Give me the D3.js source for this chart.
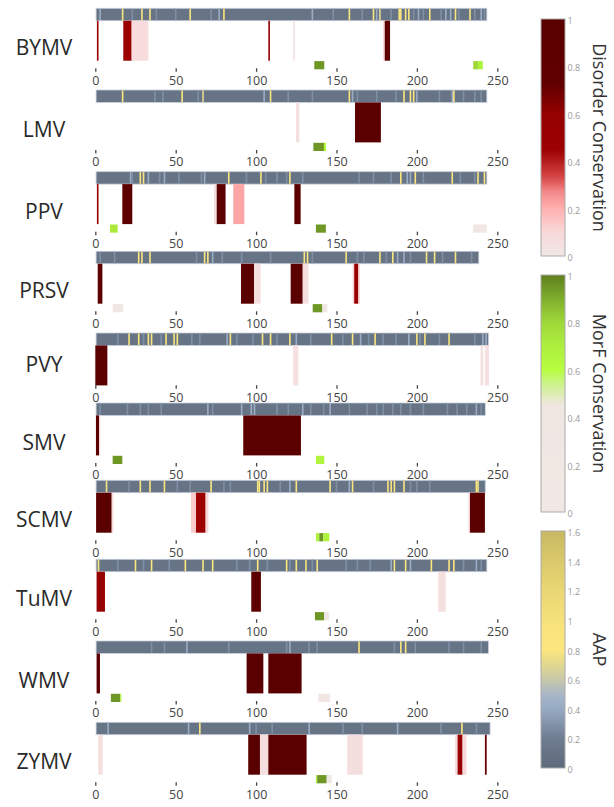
<!DOCTYPE html>
<html>
<head>
<meta charset="utf-8">
<script src="https://cdn.jsdelivr.net/npm/d3@7"></script>
<style>
  body { margin: 0; background: #fff; }
  svg { font-family: "Open Sans", sans-serif; }
</style>
</head>
<body>
<div id="chart"></div>
<script>
// ---- data ----
const viruses = ["BYMV", "LMV", "PPV", "PRSV", "PVY", "SMV", "SCMV", "TuMV", "WMV", "ZYMV"];
const seqLengths = [243, 243, 243, 238, 244, 242, 242, 243, 244, 245];
const xTicks = [0, 50, 100, 150, 200, 250];

// AAP: [residue, value] for residues that differ from the base value
const aapBase = 0.1;
const aapBYMV = [[3,.42],[17,.85],[23,.28],[29,.85],[34,.85],[38,.28],[50,.28],[59,.85],[72,.28],[77,.42],[80,.85],[135,.42],[148,.28],[158,.85],[166,.28],[173,.85],[175,.42],[177,.7],[184,.28],[189,.85],[190,.85],[193,.85],[195,.85],[198,.28],[201,.42],[204,.28],[208,.85],[215,.28],[218,.42],[221,.42],[224,.85],[226,.28],[233,.85],[236,.28],[240,.42],[242,.28]];
const aapLMV = [[17,.85],[37,.28],[42,.28],[54,.85],[64,.28],[67,.7],[105,.42],[109,.85],[120,.28],[135,.28],[158,.95],[160,.42],[163,.28],[175,.28],[187,.28],[192,.85],[196,.85],[198,.85],[200,.42],[214,.28],[222,.42],[223,.85],[229,.28],[236,.28],[240,.28]];
const aapPPV = [[22,.42],[23,.28],[28,.85],[30,.85],[33,.42],[40,.28],[43,.42],[52,.28],[66,.28],[68,.42],[83,.85],[94,.28],[103,.85],[106,.28],[113,.28],[119,.28],[121,.85],[129,.28],[164,.28],[173,.28],[184,.28],[190,.85],[194,.42],[196,.42],[199,.85],[204,.28],[222,.85],[227,.28],[236,.28],[238,.85],[242,.85]];
const aapPRSV = [[3,.28],[12,.28],[27,.85],[29,.85],[34,.85],[63,.28],[68,.85],[70,.85],[73,.42],[79,.28],[91,.28],[109,.28],[130,.85],[132,.85],[135,.28],[156,.85],[163,.28],[167,.28],[177,.85],[181,.28],[185,.85],[188,.42],[192,.42],[196,.28],[206,.85],[211,.85],[216,.28],[224,.85],[234,.28]];
const aapPVY = [[14,.28],[21,.85],[27,.85],[30,.28],[33,.85],[35,.85],[41,.28],[44,.85],[49,.85],[51,.85],[60,.28],[65,.28],[82,.42],[84,.85],[88,.28],[98,.28],[104,.85],[109,.85],[113,.28],[121,.85],[125,.42],[134,.28],[147,.85],[154,.28],[160,.85],[165,.42],[170,.28],[174,.85],[179,.28],[187,.28],[195,.42],[200,.85],[202,.28],[205,.85],[214,.28],[220,.85],[236,.28],[241,.42],[243,.42]];
const aapSMV = [[3,.28],[20,.28],[28,.28],[33,.28],[41,.28],[70,.42],[73,.28],[91,.42],[97,.42],[99,.42],[113,.28],[120,.28],[129,.42],[134,.28],[142,.28],[146,.42],[158,.28],[169,.28],[175,.28],[179,.28],[185,.28],[190,.28],[196,.28],[204,.28],[219,.28],[225,.28],[231,.28],[237,.42],[240,.28]];
const aapSCMV = [[7,.85],[21,.28],[28,.85],[34,.85],[43,.85],[51,.28],[59,.28],[72,.85],[80,.28],[84,.28],[101,.85],[102,.85],[105,.85],[107,.85],[115,.28],[121,.42],[125,.85],[146,.85],[150,.28],[158,.42],[160,.85],[173,.28],[182,.85],[184,.85],[186,.85],[192,.85],[196,.28],[200,.28],[208,.28],[237,.85],[238,.85]];
const aapTuMV = [[2,.85],[14,.28],[25,.85],[30,.28],[35,.85],[46,.28],[56,.85],[67,.85],[73,.85],[88,.28],[96,.28],[101,.85],[107,.28],[119,.85],[121,.28],[125,.85],[131,.95],[135,.28],[138,.85],[156,.28],[163,.28],[171,.28],[184,.42],[186,.85],[193,.85],[196,.42],[209,.85],[220,.85],[223,.85],[229,.28],[237,.42],[240,.28]];
const aapWMV = [[35,.28],[43,.28],[57,.42],[83,.28],[119,.28],[121,.42],[133,.28],[138,.28],[164,.9],[186,.28],[190,.85],[193,.85],[199,.28],[220,.28],[229,.28],[240,.28]];
const aapZYMV = [[8,.42],[58,.42],[65,.85],[96,.42],[100,.28],[110,.28],[133,.42],[154,.28],[166,.28],[188,.42],[215,.28],[228,.85],[237,.28]];

// Disorder conservation regions: [start, end, value]
const disBYMV = [[1,2,.6],[17.4,22.6,.5],[22.6,33,.07],[107.6,108.6,.55],[123,124,.04],[179,180,.1],[180,183.3,.9]];
const disLMV = [[124.8,126.9,.05],[161.5,177.6,.95]];
const disPPV = [[1,2,.55],[16.8,23,.9],[73.8,75.5,.06],[75.5,81,.9],[85.8,92.7,.22],[123.8,127.7,.9]];
const disPRSV = [[1.5,4.4,.9],[90.6,98.7,.95],[98.7,102.8,.06],[121.5,129,.95],[129,132.5,.06],[160,161,.1],[161,163.6,.5],[163.6,164.6,.1]];
const disPVY = [[0,7.5,.95],[123,126.2,.05],[239.6,241.3,.05],[242.3,244.8,.05]];
const disSMV = [[0.4,2.3,.9],[2.3,3,.08],[92,127.9,.95]];
const disSCMV = [[0.5,10.2,.95],[10.2,11.2,.08],[59.5,62.6,.13],[62.6,68.6,.45],[68.6,70.3,.1],[232,233,.08],[233,242.3,.95]];
const disTuMV = [[0.8,6,.55],[97,103,.9],[213.3,217.9,.06]];
const disWMV = [[0.8,2.9,.9],[94.1,104.5,.95],[107.6,128.3,.95]];
const disZYMV = [[1.9,4.6,.06],[95.1,102.4,.95],[102.4,107.6,.06],[107.6,131.4,.95],[156.7,166.3,.06],[223.8,225.3,.1],[225.3,228.4,.55],[228.4,230.8,.1],[242.3,243.4,.7]];

// MorF conservation regions: [start, end, value]
const morfBYMV = [[136.2,142.4,.95],[235,238,.8],[238,241,.68]];
const morfLMV = [[135.6,142.2,.95],[142.2,143.5,.65]];
const morfPPV = [[9.1,13.9,.72],[137.2,143.4,.95],[235,243.4,.3]];
const morfPRSV = [[10.8,17.4,.3],[135.2,141.2,.95],[141.2,144.3,.3]];
const morfPVY = [];
const morfSMV = [[10.8,16.8,.95],[137.2,142.4,.66]];
const morfSCMV = [[137.2,139.3,.68],[139.3,141.8,.95],[141.8,145.5,.66]];
const morfTuMV = [[136.6,142.4,.95],[142.4,145.5,.3]];
const morfWMV = [[9.7,15.5,.95],[15.5,16.2,.68],[138.7,146,.3]];
const morfZYMV = [[137.2,138,.68],[138,143.9,.95],[143.9,147,.3]];

const aapData = [aapBYMV, aapLMV, aapPPV, aapPRSV, aapPVY, aapSMV, aapSCMV, aapTuMV, aapWMV, aapZYMV];
const disData = [disBYMV, disLMV, disPPV, disPRSV, disPVY, disSMV, disSCMV, disTuMV, disWMV, disZYMV];
const morfData = [morfBYMV, morfLMV, morfPPV, morfPRSV, morfPVY, morfSMV, morfSCMV, morfTuMV, morfWMV, morfZYMV];

// ---- layout ----
const W = 614, H = 807;
const panelTop = [8.3, 90, 171.7, 251.3, 333, 403, 480.3, 559.3, 641, 722.3];
const stripH = 12.4, disH = 40, morfH = 8.2;

// ---- colour scales ----
const disColor = d3.scaleLinear()
  .domain([0, 0.1, 0.2, 0.27, 0.33, 0.4, 0.45, 0.6, 0.72, 1])
  .range(["#f1e6e6", "#f8d8d8", "#ffb0b0", "#f48a8a", "#d84848", "#b41c1c", "#9c0000", "#950000", "#620000", "#590000"]);
const morfColor = d3.scaleLinear()
  .domain([0, 0.45, 0.55, 0.6, 0.7, 0.8, 0.9, 1])
  .range(["#f1e7e4", "#f0e6e2", "#c8f482", "#b6fe3e", "#aeee3e", "#9ed83a", "#7fae2c", "#5f7f1f"]);
const aapColor = d3.scaleLinear()
  .domain([0, 0.2, 0.4, 0.5, 0.6, 0.7, 0.8, 1.0, 1.2, 1.4, 1.6])
  .range(["#5e6a7a", "#6f7d91", "#97aac4", "#a9b7c8", "#c8c8a8", "#e2d88e", "#fde680", "#f5e17b", "#e9d774", "#dac96b", "#c8b862"]);

const x = d3.scaleLinear().domain([0, 250]).range([95.3, 497.3]);

const svg = d3.select("#chart").append("svg")
  .attr("width", W)
  .attr("height", H);

// ---- panels ----
viruses.forEach((name, i) => {
  const top = panelTop[i];
  const hasMorf = morfData[i].length > 0;
  const g = svg.append("g").attr("transform", `translate(0,${top})`);

  // AAP strip: base colour for the whole sequence, then the differing residues
  g.append("rect")
    .attr("x", x(0.5))
    .attr("y", 0)
    .attr("width", x(seqLengths[i] + 0.5) - x(0.5))
    .attr("height", stripH)
    .attr("fill", aapColor(aapBase))
    .attr("stroke", "#c6cedb")
    .attr("stroke-width", 0.8);
  g.selectAll("rect.aap")
    .data(aapData[i])
    .join("rect")
    .attr("class", "aap")
    .attr("x", d => x(d[0] - 0.5))
    .attr("y", 0.4)
    .attr("width", d => x(d[0] + 0.5) - x(d[0] - 0.5))
    .attr("height", stripH - 0.8)
    .attr("fill", d => aapColor(d[1]));

  // disorder conservation
  g.selectAll("rect.dis")
    .data(disData[i])
    .join("rect")
    .attr("class", "dis")
    .attr("x", d => x(d[0]))
    .attr("y", stripH)
    .attr("width", d => Math.max(x(d[1]) - x(d[0]), 1.2))
    .attr("height", disH)
    .attr("fill", d => disColor(d[2]));

  // MorF conservation
  g.selectAll("rect.morf")
    .data(morfData[i])
    .join("rect")
    .attr("class", "morf")
    .attr("x", d => x(d[0]))
    .attr("y", stripH + disH + 0.4)
    .attr("width", d => x(d[1]) - x(d[0]))
    .attr("height", morfH)
    .attr("fill", d => morfColor(d[2]));

  // x axis
  const axisY = hasMorf ? 60 : 52.2;
  const axis = g.append("g")
    .attr("transform", `translate(0,${axisY})`)
    .call(d3.axisBottom(x).tickValues(xTicks).tickSize(3.5).tickPadding(4).tickFormat(d3.format("d")));
  axis.select(".domain").remove();
  axis.selectAll(".tick line").attr("stroke", "#444").attr("stroke-width", 1.3);
  axis.selectAll(".tick text")
    .attr("fill", "#444")
    .style("font-size", "12.5px")
    .style("font-family", "'Open Sans', sans-serif");

  // virus label
  g.append("text")
    .attr("x", 44)
    .attr("y", hasMorf ? 39 : 31)
    .attr("text-anchor", "middle")
    .attr("dominant-baseline", "central")
    .attr("fill", "#2a2a2a")
    .style("font-size", "21px")
    .text(name);
});

// ---- colour bars ----
const barX = 541, barW = 24, barH = 237;
const colorbars = [
  { id: "gradDis", top: 19, scale: disColor, domain: [0, 1], ticks: [0, 0.2, 0.4, 0.6, 0.8, 1], title: "Disorder Conservation" },
  { id: "gradMorf", top: 275, scale: morfColor, domain: [0, 1], ticks: [0, 0.2, 0.4, 0.6, 0.8, 1], title: "MorF Conservation" },
  { id: "gradAap", top: 531, scale: aapColor, domain: [0, 1.6], ticks: [0, 0.2, 0.4, 0.6, 0.8, 1, 1.2, 1.4, 1.6], title: "AAP" }
];

const defs = svg.append("defs");
colorbars.forEach(cb => {
  const grad = defs.append("linearGradient")
    .attr("id", cb.id)
    .attr("x1", "0%").attr("x2", "0%")
    .attr("y1", "100%").attr("y2", "0%");
  for (let k = 0; k <= 40; k++) {
    const v = cb.domain[0] + (cb.domain[1] - cb.domain[0]) * k / 40;
    grad.append("stop")
      .attr("offset", `${k * 2.5}%`)
      .attr("stop-color", cb.scale(v));
  }

  const y = d3.scaleLinear().domain(cb.domain).range([cb.top + barH, cb.top]);

  svg.append("rect")
    .attr("x", barX)
    .attr("y", cb.top)
    .attr("width", barW)
    .attr("height", barH)
    .attr("fill", `url(#${cb.id})`)
    .attr("stroke", "#aaa")
    .attr("stroke-width", 1);

  svg.selectAll(null)
    .data(cb.ticks)
    .join("text")
    .attr("x", barX + barW + 2.5)
    .attr("y", d => y(d) + 1.5)
    .attr("dominant-baseline", "central")
    .attr("fill", "#999")
    .style("font-size", "9px")
    .text(d => d3.format("~g")(d));

  svg.append("text")
    .attr("transform", `translate(600,${cb.top + barH / 2}) rotate(90)`)
    .attr("text-anchor", "middle")
    .attr("dominant-baseline", "central")
    .attr("fill", "#333")
    .style("font-size", "18px")
    .text(cb.title);
});
</script>
</body>
</html>
